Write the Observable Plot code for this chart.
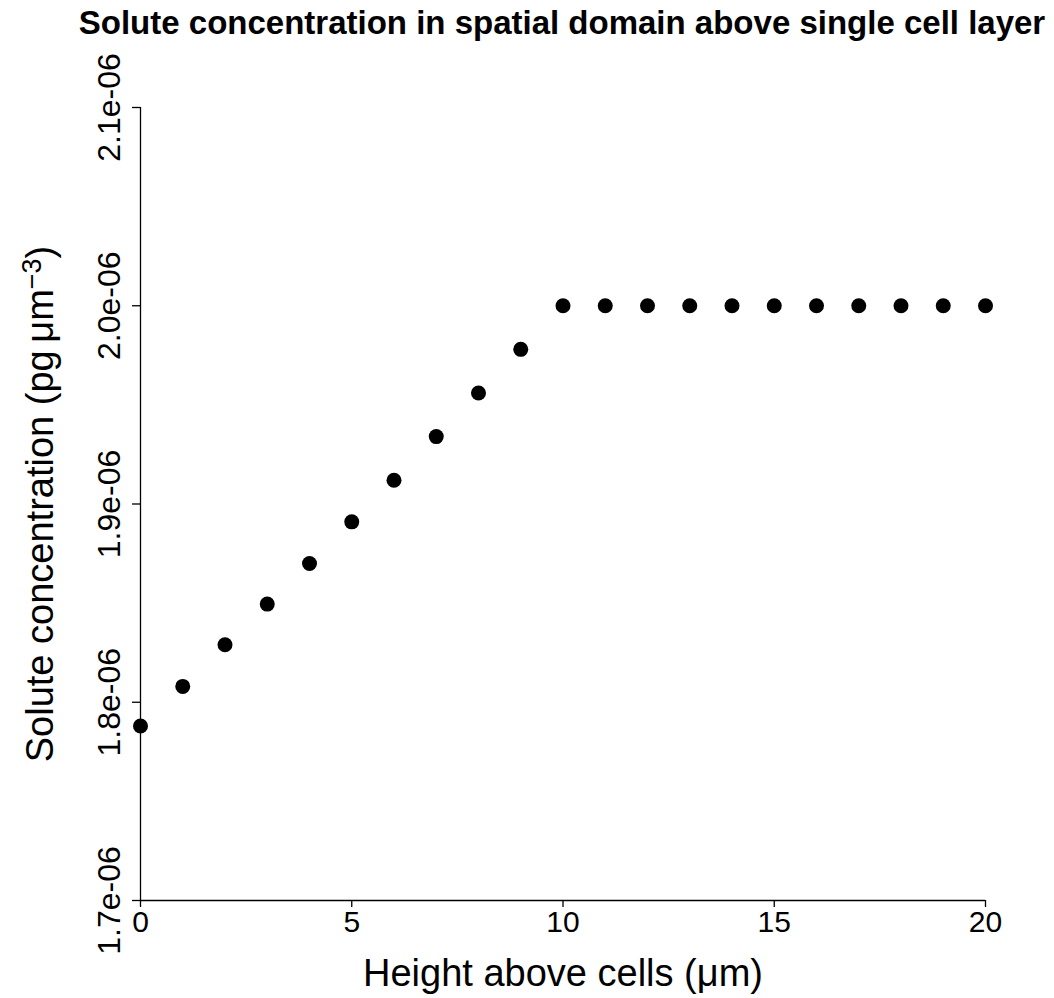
<!DOCTYPE html>
<html><head><meta charset="utf-8">
<script src="https://cdn.jsdelivr.net/npm/d3@7"></script>
<script src="https://cdn.jsdelivr.net/npm/@observablehq/plot@0.6"></script>
<style>
body{margin:0;background:#fff;font-family:"Liberation Sans",Arial,sans-serif;}
#title{width:1054px;height:45px;box-sizing:border-box;padding-left:70px;padding-top:2px;text-align:center;font-weight:bold;font-size:33px;line-height:42px;white-space:nowrap;color:#000;}
</style></head><body>
<div id="title">Solute concentration in spatial domain above single cell layer</div>
<div id="chart"></div>
<script>
const heights = [0,1,2,3,4,5,6,7,8,9,10,11,12,13,14,15,16,17,18,19,20];
const concentration = [1.788e-6,1.808e-6,1.829e-6,1.8495e-6,1.870e-6,1.891e-6,1.912e-6,1.934e-6,1.956e-6,1.978e-6,
  2.0e-6,2.0e-6,2.0e-6,2.0e-6,2.0e-6,2.0e-6,2.0e-6,2.0e-6,2.0e-6,2.0e-6,2.0e-6];
const xTicks = [0,5,10,15,20];
const yTicks = [1.7e-6,1.8e-6,1.9e-6,2.0e-6,2.1e-6];
const yTickLabels = ["1.7e-06","1.8e-06","1.9e-06","2.0e-06","2.1e-06"];
const xLabel = "Height above cells (\u03bcm)";
const yLabel = "Solute concentration (pg\u2009\u03bcm\u22123)";

const data = heights.map((h, i) => ({h, c: concentration[i]}));
const yFmt = d => yTickLabels[yTicks.findIndex(t => Math.abs(t - d) < 1e-12)];

const chart = Plot.plot({
  width: 1054, height: 953,
  marginLeft: 140, marginRight: 69, marginTop: 62, marginBottom: 98,
  style: {fontFamily: '"Liberation Sans", Arial, sans-serif', fontSize: "30px", color: "#000", background: "#fff", overflow: "visible"},
  x: {domain: [0, 20]},
  y: {domain: [1.7e-6, 2.1e-6]},
  marks: [
    Plot.ruleY([1.7e-6], {x1: 0, x2: 20, stroke: "#000", strokeWidth: 1.3}),
    Plot.ruleX([0], {y1: 1.7e-6, y2: 2.1e-6, stroke: "#000", strokeWidth: 1.3}),
    Plot.axisX({ticks: xTicks, tickSize: 7, tickPadding: 3, label: null, fontSize: 30, strokeWidth: 1.3}),
    Plot.axisY({ticks: yTicks, tickFormat: yFmt, tickRotate: -90, textAnchor: "middle", lineAnchor: "bottom", tickSize: 8, tickPadding: 13, label: null, fontSize: 32, strokeWidth: 1.3}),
    Plot.dot(data, {x: "h", y: "c", r: 7.5, fill: "#000", stroke: null}),
    Plot.text([xLabel], {frameAnchor: "bottom", textAnchor: "middle", lineAnchor: "middle", dy: 73, fontSize: 38, fill: "#000"}),
    Plot.text([yLabel], {frameAnchor: "left", textAnchor: "middle", lineAnchor: "middle", rotate: -90, dx: -100, fontSize: 38, fill: "#000"})
  ]
});
document.getElementById("chart").appendChild(chart);

// superscript for the unit exponent
chart.querySelectorAll("text").forEach(t => {
  if (t.textContent === yLabel) {
    const ns = "http://www.w3.org/2000/svg";
    t.textContent = "";
    const parts = [
      {s: "Solute concentration (pg\u2009\u03bcm"},
      {s: "\u22123", dy: "-0.45em", size: "27px"},
      {s: ")", dy: "0.33em"}
    ];
    parts.forEach(p => {
      const ts = document.createElementNS(ns, "tspan");
      ts.textContent = p.s;
      if (p.dy) ts.setAttribute("dy", p.dy);
      if (p.size) ts.setAttribute("font-size", p.size);
      t.appendChild(ts);
    });
  }
});
</script>
</body></html>
